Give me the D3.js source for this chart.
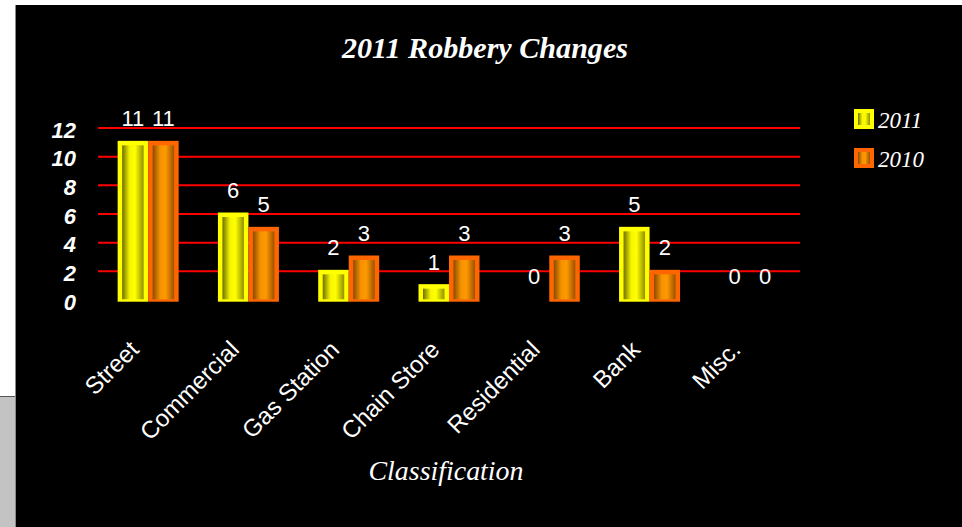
<!DOCTYPE html>
<html>
<head>
<meta charset="utf-8">
<script src="https://cdn.jsdelivr.net/npm/d3@7"></script>
<style>
html,body{margin:0;padding:0;background:#fff;}
svg{display:block;}
</style>
</head>
<body>
<svg id="chart" width="962" height="527"></svg>
<script>
const categories = ["Street","Commercial","Gas Station","Chain Store","Residential","Bank","Misc."];
const seriesNames = ["2011","2010"];
const values2011 = [11,6,2,1,0,5,0];
const values2010 = [11,5,3,3,3,2,0];
const yTicks = [0,2,4,6,8,10,12];
const titleText = "2011 Robbery Changes";
const xAxisTitle = "Classification";

const svg = d3.select("#chart");
const W = 962, H = 527;

// frame
svg.append("rect").attr("x",0).attr("y",0).attr("width",W).attr("height",H).attr("fill","#fff");
svg.append("rect").attr("x",0).attr("y",396).attr("width",15).attr("height",H-396).attr("fill","#c3c3c3");
svg.append("line").attr("x1",0).attr("x2",15).attr("y1",396.5).attr("y2",396.5).attr("stroke","#555").attr("stroke-width",1);
svg.append("rect").attr("x",15).attr("y",5).attr("width",W-15).attr("height",H-5).attr("fill","#000");
svg.append("line").attr("x1",15.5).attr("x2",15.5).attr("y1",5).attr("y2",H).attr("stroke","#8a8a8a").attr("stroke-width",1);

const defs = svg.append("defs");
function grad(id, stops){
  const g = defs.append("linearGradient").attr("id",id).attr("x1","0%").attr("x2","100%").attr("y1","0%").attr("y2","0%");
  stops.forEach(s=>g.append("stop").attr("offset",s[0]).attr("stop-color",s[1]));
}
grad("gY",[["0%","#6e6e00"],["35%","#f5f500"],["60%","#ffff00"],["100%","#8f8f00"]]);
grad("gO",[["0%","#8a4a00"],["35%","#f59200"],["60%","#ff9900"],["100%","#9a5200"]]);

const series = [
  {name:seriesNames[0], values:values2011, border:"#ffff00", fill:"url(#gY)"},
  {name:seriesNames[1], values:values2010, border:"#ff6600", fill:"url(#gO)"}
];

const x0 = d3.scaleBand().domain(categories).range([98,800]);
const groupW = 61;
const x1 = d3.scaleBand().domain(seriesNames).range([0,groupW]);
const y = d3.scaleLinear().domain([0,12]).range([300,128]);

// gridlines
svg.append("g").selectAll("line").data(yTicks.filter(t=>t>0)).join("line")
  .attr("x1",98).attr("x2",800)
  .attr("y1",d=>y(d)).attr("y2",d=>y(d))
  .attr("stroke","#ff0000").attr("stroke-width",2);

// y axis labels
const yAxis = d3.axisLeft(y).tickValues(yTicks).tickSize(0).tickPadding(0);
const yg = svg.append("g").attr("transform","translate(76,2)").call(yAxis);
yg.select(".domain").remove();
yg.selectAll("text").attr("fill","#fff").attr("font-family","'Liberation Sans', Arial, sans-serif")
  .attr("font-size",22).attr("font-weight","bold").attr("font-style","italic");

// bars
const groups = svg.append("g").selectAll("g").data(categories).join("g")
  .attr("transform",d=>`translate(${x0(d)+(x0.bandwidth()-groupW)/2},0)`);

groups.each(function(cat,i){
  const g = d3.select(this);
  series.forEach(s=>{
    const v = s.values[i];
    const bx = x1(s.name), bw = x1.bandwidth();
    if (v>0){
      g.append("rect").attr("x",bx).attr("y",y(v)-1.5).attr("width",bw).attr("height",y(0)-y(v)+3.2)
        .attr("fill",s.border);
      g.append("rect").attr("x",bx+4.5).attr("y",y(v)+3).attr("width",bw-9).attr("height",y(0)-y(v)-3.7)
        .attr("fill",s.fill);
    }
  });
});
// value labels (on top)
groups.each(function(cat,i){
  const g = d3.select(this);
  series.forEach(s=>{
    const v = s.values[i];
    g.append("text").attr("x",x1(s.name)+x1.bandwidth()/2).attr("y",y(v)-16)
      .attr("text-anchor","middle").attr("fill","#fff")
      .attr("font-family","'Liberation Sans', Arial, sans-serif").attr("font-size",22)
      .text(v);
  });
});

// x labels
svg.append("g").selectAll("text").data(categories).join("text")
  .attr("transform",d=>`translate(${x0(d)+x0.bandwidth()/2-8},351) rotate(-45)`)
  .attr("text-anchor","end").attr("fill","#fff")
  .attr("font-family","'Liberation Sans', Arial, sans-serif").attr("font-size",24)
  .text(d=>d);

// title
svg.append("text").attr("x",485).attr("y",58).attr("text-anchor","middle")
  .attr("fill","#fff").attr("font-family","'Liberation Serif', 'Times New Roman', serif")
  .attr("font-size",29).attr("font-style","italic").attr("font-weight","bold")
  .attr("textLength",286).attr("lengthAdjust","spacingAndGlyphs")
  .text(titleText);

// axis title
svg.append("text").attr("x",446).attr("y",480).attr("text-anchor","middle")
  .attr("fill","#fff").attr("font-family","'Liberation Serif', 'Times New Roman', serif")
  .attr("font-size",27).attr("font-style","italic")
  .attr("textLength",155).attr("lengthAdjust","spacingAndGlyphs")
  .text(xAxisTitle);

// legend
const leg = svg.append("g").selectAll("g").data(series).join("g")
  .attr("transform",(d,i)=>`translate(854,${109+i*39})`);
leg.append("rect").attr("width",20).attr("height",20).attr("fill",d=>d.border);
leg.append("rect").attr("x",4).attr("y",4).attr("width",12).attr("height",12).attr("fill",d=>d.fill);
leg.append("text").attr("x",24).attr("y",19).attr("fill","#fff")
  .attr("font-family","'Liberation Serif', 'Times New Roman', serif")
  .attr("font-size",23).attr("font-style","italic")
  .text(d=>d.name);
</script>
</body>
</html>
